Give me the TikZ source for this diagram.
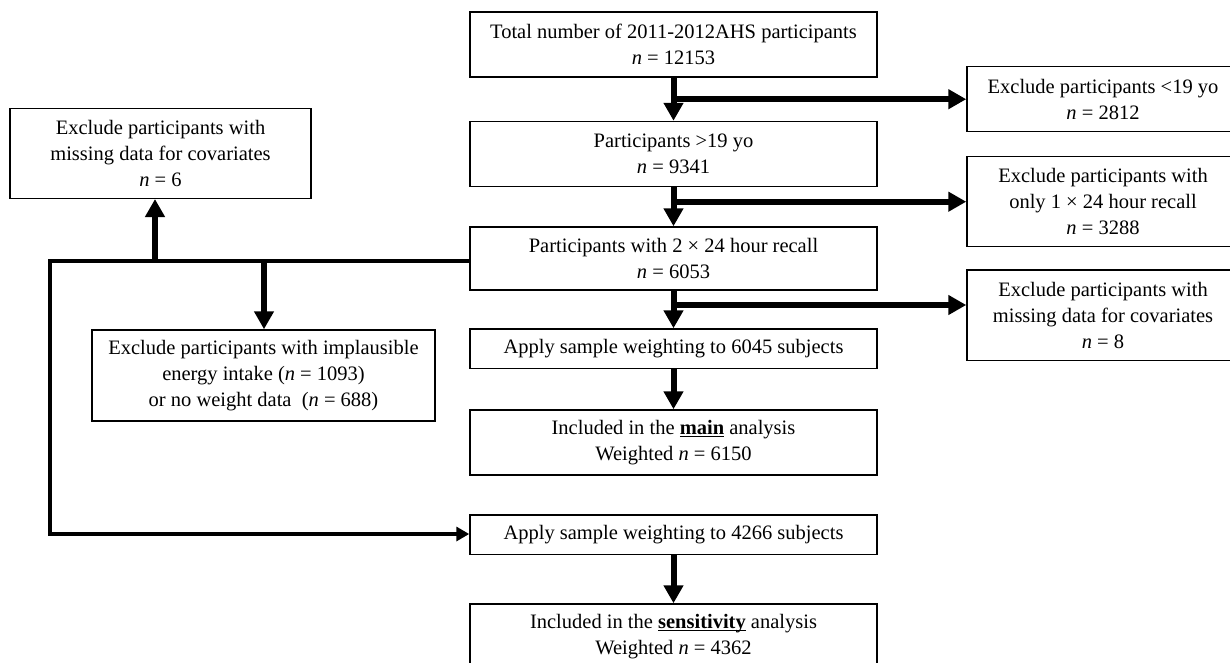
\documentclass[tikz,border=0pt]{standalone}
\usepackage{fontspec}
\setmainfont{Liberation Serif}
\usetikzlibrary{arrows.meta}
\tikzset{
  box/.style={draw, line width=1.5pt, align=center, inner sep=0pt,
    font=\fontsize{20.5}{26}\selectfont},
  flow/.style={line width=6pt, -{Triangle[length=18pt,width=19pt]}},
  sideflow/.style={line width=4pt, -{Triangle[length=13pt,width=14pt]}},
}
\begin{document}
\begin{tikzpicture}[x=1pt,y=-1pt]
\clip (0,0) rectangle (1230,662);
\fill[white] (0,0) rectangle (1230,662);
% main column
\node[box, minimum width=407, minimum height=65] (b1) at (673.5,44.5) {Total number of 2011-2012AHS participants\\\textit{n} = 12153};
\node[box, minimum width=407, minimum height=65] (b2) at (673.5,154) {Participants >19 yo\\\textit{n} = 9341};
\node[box, minimum width=407, minimum height=63] (b3) at (673.5,258.5) {Participants with 2 × 24 hour recall\\\textit{n} = 6053};
\node[box, minimum width=407, minimum height=39.5] (b4) at (673.5,348.75) {Apply sample weighting to 6045 subjects};
\node[box, minimum width=407, minimum height=65] (b5) at (673.5,442.5) {Included in the \underline{\smash{\textbf{main}}} analysis\\Weighted \textit{n} = 6150};
\node[box, minimum width=407, minimum height=39.5] (b6) at (673.5,534.75) {Apply sample weighting to 4266 subjects};
\node[box, minimum width=407, minimum height=65] (b7) at (673.5,636.5) {Included in the \underline{\smash{\textbf{sensitivity}}} analysis\\Weighted \textit{n} = 4362};
% right column
\node[box, minimum width=272, minimum height=65] (r1) at (1103,99.2) {Exclude participants <19 yo\\\textit{n} = 2812};
\node[box, minimum width=272, minimum height=90] (r2) at (1103,201.7) {Exclude participants with\\only 1 × 24 hour recall\\\textit{n} = 3288};
\node[box, minimum width=272, minimum height=90.7] (r3) at (1103,315.3) {Exclude participants with\\missing data for covariates\\\textit{n} = 8};
% left side
\node[box, minimum width=301, minimum height=90] (L1) at (160.5,153.3) {Exclude participants with\\missing data for covariates\\\textit{n} = 6};
\node[box, minimum width=343, minimum height=91] (L2) at (263.5,375.5) {Exclude participants with implausible\\energy intake (\textit{n} = 1093)\\or no weight data~ (\textit{n} = 688)};
% coordinates
\coordinate (j3) at (675,305);
\coordinate (k1) at (50,261);
\coordinate (k2) at (50,534);
\coordinate (u1) at (155,261);
\coordinate (d1) at (264,261);
% main connectors
\draw[flow] (b1.south) -- (b2.north);
\draw[flow] (b2.south) -- (b3.north);
\draw[flow] (b3.south) -- (b4.north);
\draw[flow] (b4.south) -- (b5.north);
\draw[flow] (b6.south) -- (b7.north);
\draw[flow] (b1.south |- r1.west) -- (r1.west);
\draw[flow] (b2.south |- r2.west) -- (r2.west);
\draw[flow] (j3) -- (j3 -| r3.west);
% left connectors
\draw[sideflow] (b3.west |- k1) -- (k1) -- (k2) -- (k2 -| b6.west);
\draw[flow] (u1) -- (u1 |- L1.south);
\draw[flow] (d1) -- (d1 |- L2.north);
\end{tikzpicture}
\end{document}
